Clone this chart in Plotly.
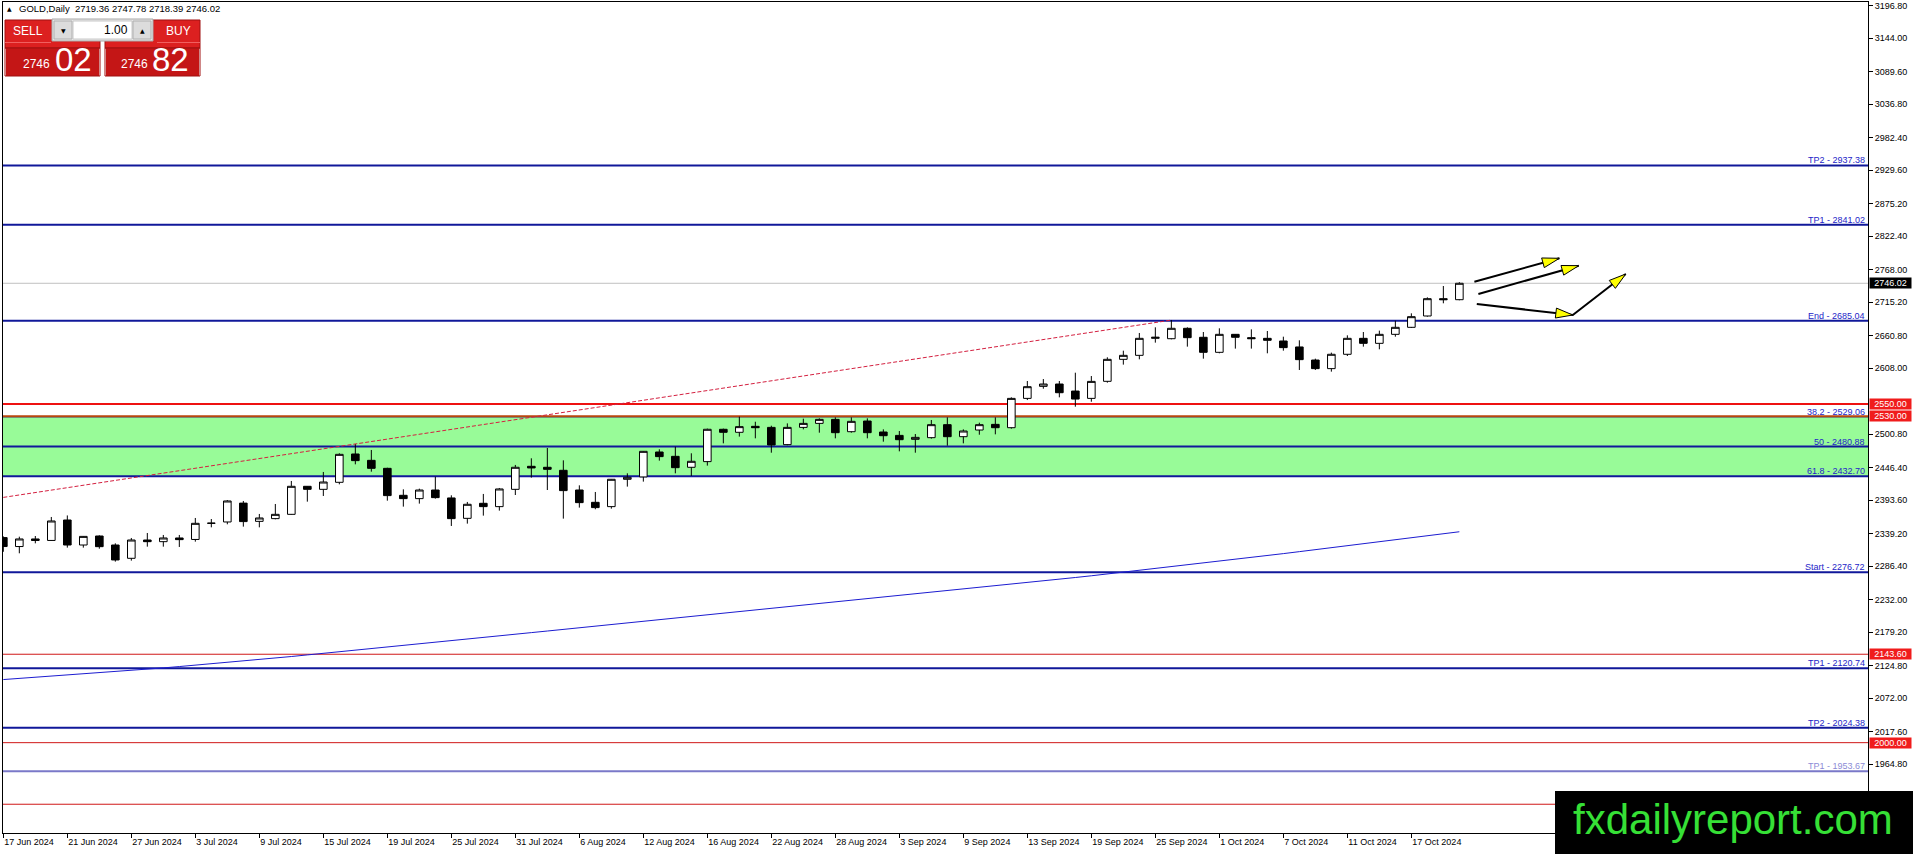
import plotly.graph_objects as go

# ---------------- data ----------------
tick_labels = ["17 Jun 2024", "21 Jun 2024", "27 Jun 2024", "3 Jul 2024", "9 Jul 2024",
               "15 Jul 2024", "19 Jul 2024", "25 Jul 2024", "31 Jul 2024", "6 Aug 2024",
               "12 Aug 2024", "16 Aug 2024", "22 Aug 2024", "28 Aug 2024", "3 Sep 2024",
               "9 Sep 2024", "13 Sep 2024", "19 Sep 2024", "25 Sep 2024", "1 Oct 2024",
               "7 Oct 2024", "11 Oct 2024", "17 Oct 2024"]
tick_bars = [0, 4, 8, 12, 16, 20, 24, 28, 32, 36, 40, 44, 48, 52, 56, 60, 64, 68, 72, 76, 80, 84, 88]

opens = [2333.0, 2318.5, 2330.8, 2328.4, 2361.6, 2321.0, 2335.6, 2321.0, 2299.4, 2329.1,
         2326.4, 2332.4, 2330.0, 2356.2, 2358.4, 2389.0, 2359.4, 2363.8, 2370.8, 2416.3,
         2411.4, 2422.8, 2468.8, 2458.5, 2445.5, 2401.7, 2396.3, 2410.3, 2397.4, 2364.3,
         2388.7, 2383.3, 2411.4, 2448.8, 2447.2, 2442.3, 2410.3, 2390.3, 2383.3, 2427.7,
         2431.5, 2472.0, 2465.0, 2447.2, 2456.4, 2508.9, 2504.0, 2513.7, 2512.0, 2484.0,
         2512.0, 2518.5, 2525.0, 2505.0, 2522.3, 2504.5, 2499.0, 2492.6, 2495.3, 2516.4,
         2496.9, 2507.7, 2516.9, 2511.5, 2559.1, 2578.6, 2582.4, 2571.0, 2559.1, 2586.8,
         2622.5, 2629.0, 2656.6, 2656.0, 2672.9, 2658.3, 2633.9, 2663.1, 2657.7, 2656.6,
         2652.3, 2642.6, 2621.4, 2607.4, 2630.7, 2656.6, 2648.5, 2663.1, 2674.5, 2692.9,
         2721.0, 2719.36]
highs = [2335.0, 2334.5, 2335.6, 2366.5, 2369.0, 2335.5, 2336.7, 2323.7, 2332.4, 2340.5,
         2337.3, 2337.3, 2364.9, 2363.2, 2394.0, 2392.5, 2371.4, 2387.6, 2425.0, 2416.8,
         2439.6, 2469.9, 2485.0, 2475.3, 2446.5, 2411.4, 2412.5, 2432.0, 2401.7, 2390.9,
         2403.9, 2413.6, 2451.0, 2461.8, 2478.5, 2458.5, 2417.9, 2407.1, 2428.2, 2437.4,
         2473.6, 2476.4, 2480.7, 2469.9, 2510.0, 2510.0, 2529.4, 2521.2, 2514.7, 2518.5,
         2526.1, 2526.7, 2528.3, 2528.3, 2526.7, 2508.8, 2506.1, 2501.2, 2524.0, 2528.3,
         2508.8, 2519.6, 2528.3, 2560.8, 2587.3, 2590.5, 2587.3, 2600.8, 2595.4, 2625.8,
         2636.6, 2665.3, 2674.5, 2686.4, 2674.5, 2666.9, 2672.9, 2663.6, 2671.2, 2668.5,
         2659.3, 2653.4, 2623.6, 2633.4, 2661.5, 2666.9, 2669.1, 2685.3, 2697.2, 2723.2,
         2741.6, 2747.78]
lows = [2310.0, 2307.5, 2323.7, 2328.0, 2316.7, 2316.7, 2315.0, 2294.0, 2295.6, 2318.3,
        2318.3, 2317.8, 2326.4, 2349.7, 2354.6, 2350.8, 2349.7, 2362.7, 2370.3, 2391.4,
        2400.6, 2419.5, 2452.0, 2440.1, 2393.0, 2383.3, 2388.2, 2396.3, 2351.9, 2355.7,
        2368.7, 2376.8, 2402.2, 2430.4, 2410.3, 2363.8, 2381.7, 2379.0, 2380.0, 2415.8,
        2423.9, 2458.0, 2437.4, 2433.1, 2449.9, 2486.1, 2497.0, 2494.2, 2470.9, 2483.0,
        2508.8, 2503.4, 2494.2, 2503.4, 2494.2, 2488.8, 2473.1, 2470.9, 2493.7, 2482.3,
        2486.1, 2500.1, 2500.7, 2509.9, 2556.4, 2574.8, 2560.8, 2545.6, 2553.7, 2584.6,
        2613.9, 2622.5, 2649.6, 2655.0, 2643.1, 2623.6, 2632.3, 2639.9, 2639.9, 2632.3,
        2636.6, 2605.2, 2605.2, 2602.5, 2627.9, 2643.1, 2638.8, 2659.3, 2673.4, 2691.8,
        2713.5, 2718.39]
closes = [2318.5, 2330.8, 2328.4, 2360.0, 2321.0, 2335.0, 2318.3, 2296.7, 2329.1, 2326.4,
          2332.4, 2329.7, 2356.2, 2356.4, 2392.5, 2359.0, 2364.9, 2370.8, 2416.3, 2411.4,
          2423.3, 2468.2, 2458.0, 2445.5, 2401.2, 2396.3, 2410.3, 2397.9, 2363.8, 2387.1,
          2383.3, 2412.0, 2447.2, 2446.1, 2443.9, 2409.3, 2389.8, 2381.7, 2427.7, 2430.9,
          2473.1, 2464.5, 2446.6, 2456.9, 2508.9, 2504.0, 2513.2, 2511.5, 2483.4, 2512.0,
          2518.5, 2525.0, 2503.4, 2521.8, 2503.4, 2498.5, 2492.0, 2495.8, 2516.4, 2496.9,
          2506.1, 2516.4, 2511.5, 2559.1, 2578.1, 2582.4, 2568.3, 2558.0, 2586.7, 2622.5,
          2629.0, 2656.6, 2658.3, 2672.9, 2657.7, 2633.9, 2663.1, 2658.3, 2656.1, 2653.4,
          2641.5, 2622.0, 2607.4, 2630.7, 2656.6, 2648.5, 2663.1, 2674.5, 2691.8, 2721.0,
          2719.4, 2746.02]
moving_avg = [2102.5, 2104.3, 2106.1, 2107.9, 2109.8, 2111.6, 2113.5, 2115.5, 2117.4, 2119.4,
              2121.4, 2123.6, 2125.8, 2128.0, 2130.3, 2132.6, 2135.0, 2137.4, 2139.9, 2142.5,
              2145.0, 2147.6, 2150.2, 2152.8, 2155.3, 2157.9, 2160.5, 2163.1, 2165.7, 2168.3,
              2170.9, 2173.5, 2176.1, 2178.7, 2181.3, 2183.9, 2186.5, 2189.1, 2191.7, 2194.3,
              2196.9, 2199.5, 2202.1, 2204.7, 2207.3, 2209.9, 2212.5, 2215.1, 2217.7, 2220.3,
              2222.9, 2225.5, 2228.1, 2230.7, 2233.3, 2235.9, 2238.5, 2241.1, 2243.7, 2246.3,
              2248.9, 2251.6, 2254.3, 2257.0, 2259.8, 2262.6, 2265.4, 2268.2, 2271.0, 2273.9,
              2276.8, 2279.7, 2282.6, 2285.6, 2288.6, 2291.6, 2294.6, 2297.7, 2300.8, 2303.9,
              2307.0, 2310.2, 2313.4, 2316.6, 2319.8, 2323.0, 2326.2, 2329.4, 2332.6, 2335.9,
              2339.2, 2342.5]

y_ticks = [3196.80, 3144.00, 3089.60, 3036.80, 2982.40, 2929.60, 2875.20, 2822.40, 2768.00,
           2715.20, 2660.80, 2608.00, 2500.80, 2446.40, 2393.60, 2339.20, 2286.40, 2232.00,
           2179.20, 2124.80, 2072.00, 2017.60, 1964.80]

# labelled horizontal levels (blue family)
level_names = ["TP2", "TP1", "End", "38.2", "50", "61.8", "Start", "TP1", "TP2", "TP1"]
level_values = [2937.38, 2841.02, 2685.04, 2529.06, 2480.88, 2432.70, 2276.72, 2120.74, 2024.38, 1953.67]
# red price lines
red_levels = [2550.00, 2530.00, 2143.60, 2000.00, 1900.00]
red_labelled = [2550.00, 2530.00, 2143.60, 2000.00]
current_price = 2746.02
zone_top, zone_bottom = 2530.00, 2432.70

trend_bars = [0, 73]
trend_prices = [2398.3, 2686.2]

arrow_paths = [
    ([91.94, 97.25], [2748.6, 2786.6]),
    ([92.19, 98.46], [2728.6, 2774.6]),
    ([92.09, 98.09, 101.4], [2712.4, 2694.5, 2761.1]),
]
arrow_heads = [  # (from point, to point)
    ((91.94, 2748.6), (97.25, 2786.6)),
    ((92.19, 2728.6), (98.46, 2774.6)),
    ((92.09, 2712.4), (98.09, 2694.5)),
    ((98.09, 2694.5), (101.4, 2761.1)),
]

# ---------------- layout geometry ----------------
W, H = 1913, 854
ML, MR, MT, MB = 3, 45, 2, 21
PW, PH = W - ML - MR, H - MT - MB
X_RANGE = [-0.02, 116.54]
Y_RANGE = [1853.3, 3202.8]
FONT = "Liberation Sans, Arial, sans-serif"


def pxx(p):
    return (p - ML) / PW


def pxy(p):
    return (H - MB - p) / PH


bars = list(range(len(opens)))

fig = go.Figure()

fig.add_trace(go.Candlestick(
    x=bars, open=opens, high=highs, low=lows, close=closes,
    increasing=dict(line=dict(color="black", width=1), fillcolor="white"),
    decreasing=dict(line=dict(color="black", width=1), fillcolor="black"),
    whiskerwidth=0, showlegend=False, hoverinfo="skip"))

fig.add_trace(go.Scatter(x=bars, y=moving_avg, mode="lines",
                         line=dict(color="#1c1cd0", width=1), showlegend=False, hoverinfo="skip"))

fig.add_trace(go.Scatter(x=trend_bars, y=trend_prices, mode="lines",
                         line=dict(color="#d42040", width=1, dash="4px,2px"),
                         showlegend=False, hoverinfo="skip"))

for xs, ys in arrow_paths:
    fig.add_trace(go.Scatter(x=xs, y=ys, mode="lines", line=dict(color="black", width=2),
                             showlegend=False, hoverinfo="skip"))

shapes = []
ann = []

# green zone
shapes.append(dict(type="rect", xref="paper", yref="y", x0=0, x1=1, y0=zone_bottom, y1=zone_top,
                   fillcolor="#98fb98", line=dict(width=0), layer="below"))

# current price line
shapes.append(dict(type="line", xref="paper", yref="y", x0=0, x1=1, y0=current_price, y1=current_price,
                   line=dict(color="#c0c0c0", width=1), layer="below"))

# blue family lines
for name, v in zip(level_names, level_values):
    col = "#7a78c8" if v < 1960 else "#10189a"
    wid = 1 if name == "38.2" else 2
    shapes.append(dict(type="line", xref="paper", yref="y", x0=0, x1=1, y0=v, y1=v,
                       line=dict(color=col, width=wid), layer="below"))
    tcol = "#8c8cd6" if v < 1960 else "#2424c8"
    ann.append(dict(xref="paper", yref="y", x=1, y=v, xanchor="right", yanchor="bottom",
                    xshift=-2, yshift=-1, text=f"{name} - {v:.2f}", showarrow=False,
                    font=dict(family=FONT, size=9, color=tcol), borderpad=0))

# red lines
for v in red_levels:
    if v == 2550.00:
        col, wid = "#ee1111", 2
    elif v == 2530.00:
        col, wid = "#b8460e", 2
    else:
        col, wid = "#d01818", 1
    shapes.append(dict(type="line", xref="paper", yref="y", x0=0, x1=1, y0=v, y1=v,
                       line=dict(color=col, width=wid), layer="below"))

# right-side price boxes
for v in red_labelled:
    ann.append(dict(xref="paper", yref="y", x=1, y=v, xanchor="left", yanchor="middle", xshift=1,
                    text=f"{v:.2f}", showarrow=False, bgcolor="#f01c1c", width=41, height=10,
                    font=dict(family=FONT, size=9, color="white"), borderpad=0))
ann.append(dict(xref="paper", yref="y", x=1, y=current_price, xanchor="left", yanchor="middle", xshift=1,
                text=f"{current_price:.2f}", showarrow=False, bgcolor="black", width=41, height=10,
                font=dict(family=FONT, size=9, color="white"), borderpad=0))

# arrowheads (computed in pixel space)
sx = PW / (X_RANGE[1] - X_RANGE[0])
sy = PH / (Y_RANGE[1] - Y_RANGE[0])
for (x0, y0), (x1, y1) in arrow_heads:
    dx, dy = (x1 - x0) * sx, (y1 - y0) * sy
    L = (dx * dx + dy * dy) ** 0.5
    ux, uy = dx / L, dy / L
    hl, hw = 17, 5
    bx, by = -ux * hl, -uy * hl
    p1 = (x1 + (bx - uy * hw) / sx, y1 + (by + ux * hw) / sy)
    p2 = (x1 + (bx + uy * hw) / sx, y1 + (by - ux * hw) / sy)
    path = f"M {x1},{y1} L {p1[0]},{p1[1]} L {p2[0]},{p2[1]} Z"
    shapes.append(dict(type="path", xref="x", yref="y", path=path, fillcolor="#ffff00",
                       line=dict(color="black", width=1), layer="above"))

# ---- top-left trade panel ----
def prect(x0, y0, x1, y1, fill, line=None, lw=0):
    shapes.append(dict(type="rect", xref="paper", yref="paper", x0=pxx(x0), x1=pxx(x1),
                       y0=pxy(y1), y1=pxy(y0), fillcolor=fill,
                       line=dict(color=line or fill, width=lw), layer="above"))


def ptext(x, y, text, size, color, xanchor="left", family=FONT):
    ann.append(dict(xref="paper", yref="paper", x=pxx(x), y=pxy(y), xanchor=xanchor, yanchor="middle",
                    text=text, showarrow=False, font=dict(family=family, size=size, color=color)))


for bx0 in (5, 105):
    prect(bx0, 20, bx0 + 95, 48, "#dc2020", "#a01010", 1)
    prect(bx0 + 1, 48, bx0 + 94, 76, "#c41616")
    prect(bx0, 48, bx0 + 95, 76, "rgba(0,0,0,0)", "#a01010", 1)
prect(5, 42, 51, 43, "#f06060")
prect(157, 42, 200, 43, "#f06060")
prect(52, 19, 153, 41, "#e6e6e6", "#a8a8a8", 1)
prect(54, 21, 72, 39, "#dcdcdc", "#b0b0b0", 1)
prect(73, 21, 132, 39, "white", "#c8c8c8", 1)
prect(133, 21, 151, 39, "#dcdcdc", "#b0b0b0", 1)
ptext(28, 31, "SELL", 12, "white", "center")
ptext(178, 31, "BUY", 12, "white", "center")
ptext(63, 31, "▼", 6, "black", "center", "DejaVu Sans")
ptext(142, 31, "▲", 6, "black", "center", "DejaVu Sans")
ptext(130, 30, "1.00", 12, "black", "right")
ptext(21, 64, "2746", 12, "white")
ptext(53, 60, "02", 33, "white")
ptext(119, 64, "2746", 12, "white")
ptext(150, 60, "82", 33, "white")

# title
ptext(5, 9, "▲", 6, "black", "left", "DejaVu Sans")
ptext(17, 9, "GOLD,Daily  2719.36 2747.78 2718.39 2746.02", 9.5, "black")

# watermark
shapes.append(dict(type="rect", xref="paper", yref="paper", x0=pxx(1555), x1=pxx(1915),
                   y0=pxy(856), y1=pxy(791), fillcolor="black", line=dict(width=0), layer="above"))
ptext(1733, 819, "fxdailyreport.com", 42, "#36e036", "center")

fig.update_layout(
    width=W, height=H, margin=dict(l=ML, r=MR, t=MT, b=MB),
    paper_bgcolor="white", plot_bgcolor="white",
    shapes=shapes, annotations=ann, showlegend=False, hovermode=False,
    boxgap=0.32,
    font=dict(family=FONT, size=9, color="black"),
    xaxis=dict(range=X_RANGE, tickvals=tick_bars, ticktext=tick_labels,
               ticks="outside", ticklen=4, tickcolor="black", ticklabelposition="outside right",
               showgrid=False, zeroline=False, showline=True, linecolor="black", linewidth=1,
               mirror=True, rangeslider=dict(visible=False), fixedrange=True,
               tickfont=dict(family=FONT, size=9, color="black")),
    yaxis=dict(range=Y_RANGE, side="right", tickvals=y_ticks, ticktext=[f"{v:.2f}" for v in y_ticks],
               ticks="outside", ticklen=4, tickcolor="black",
               showgrid=False, zeroline=False, showline=True, linecolor="black", linewidth=1,
               mirror=True, fixedrange=True, tickfont=dict(family=FONT, size=9, color="black")),
)

fig.write_html("out.html", config=dict(displayModeBar=False),
               post_script="document.body.style.margin='0';document.body.style.overflow='hidden';")
